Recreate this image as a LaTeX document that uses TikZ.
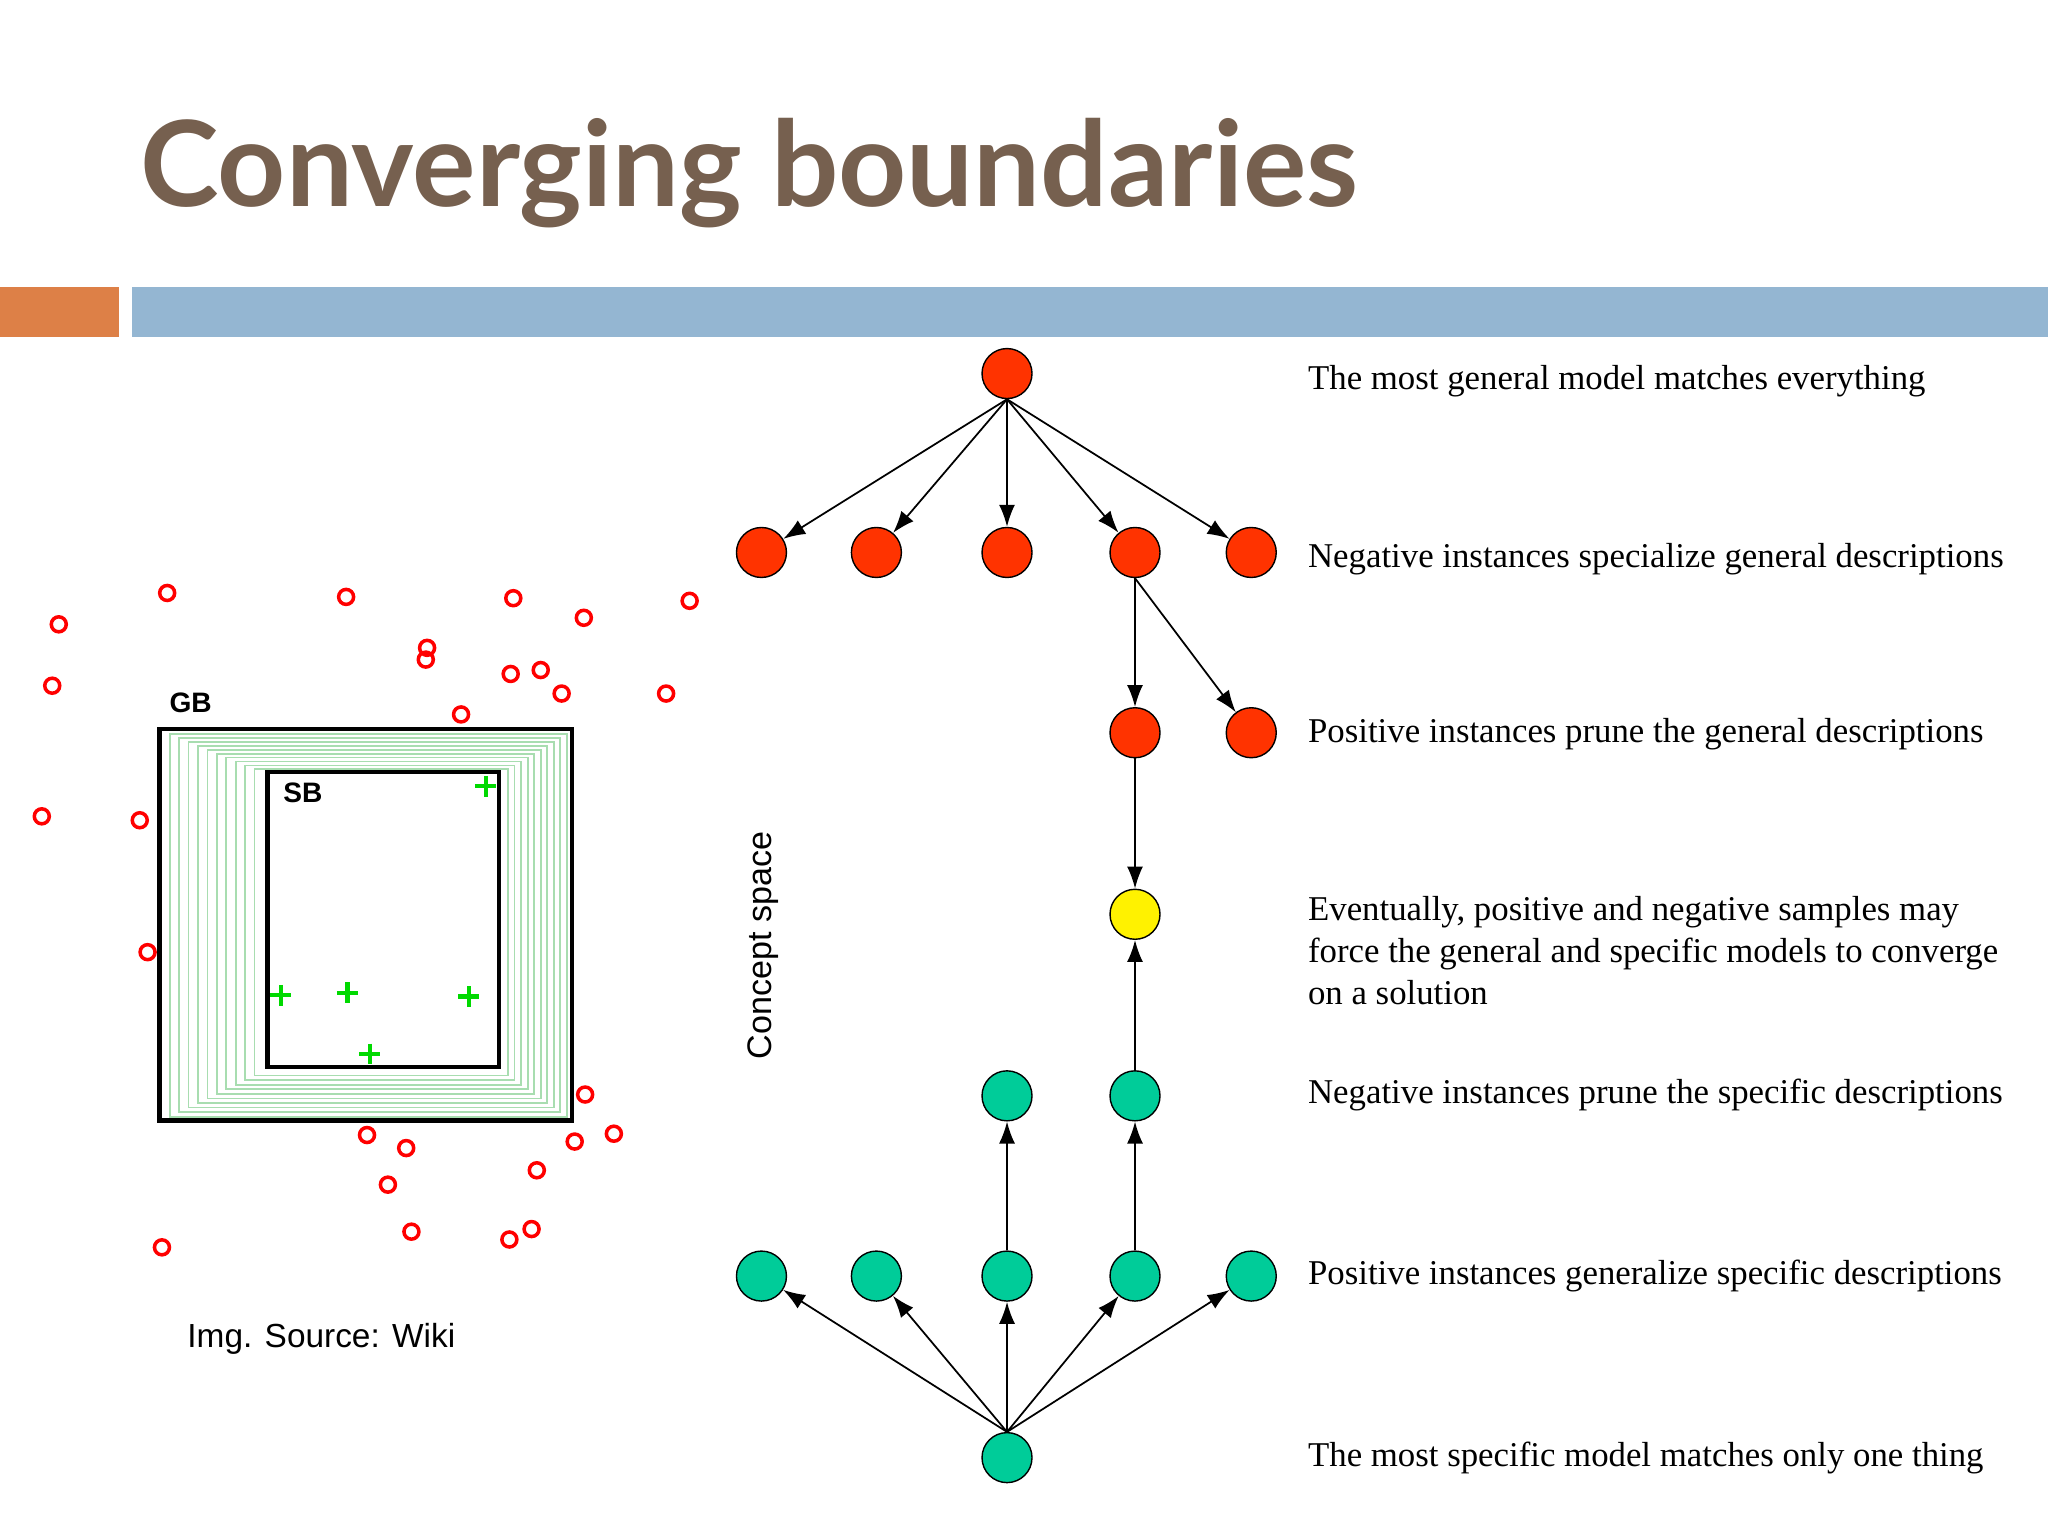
\documentclass[tikz,border=0pt]{standalone}
\usepackage{fontspec}
\setmainfont{Liberation Serif}
\newfontfamily\sans{Liberation Sans}
\newfontfamily\titlef{Lato}
\usetikzlibrary{arrows.meta}
\definecolor{titlebrown}{HTML}{76604F}
\definecolor{barorange}{HTML}{DD8047}
\definecolor{barblue}{HTML}{94B6D2}
\definecolor{nred}{HTML}{FF3300}
\definecolor{ngreen}{HTML}{00CC99}
\definecolor{pgreen}{HTML}{A8DDB0}
\tikzset{
  nd/.style={circle,draw=black,line width=0.4pt,minimum size=0.5cm,inner sep=0pt},
  rn/.style={nd,fill=nred},
  gn/.style={nd,fill=ngreen},
  yn/.style={nd,fill=yellow},
  ar/.style={-{Latex[length=2.2mm,width=1.6mm]},line width=0.5pt},
  lab/.style={anchor=west,font=\fontsize{9.9}{11.9}\selectfont,align=left},
  ro/.style={circle,draw=red,line width=1pt,minimum size=0.15cm,inner sep=0pt},
}
\begin{document}
\begin{tikzpicture}[x=0.01306cm,y=-0.01306cm]
\useasboundingbox (0,0) rectangle (1568,1176);
\node[anchor=base west,text=titlebrown,font=\titlef\bfseries\fontsize{33.8}{37}\selectfont,inner sep=0] (title) at (107,158) {Converging boundaries};
\fill[barorange] (0,220) rectangle (91,258);
\fill[barblue] (101,220) rectangle (1568,258);
% left figure
\foreach \i in {0,...,9}{
  \pgfmathsetmacro{\lx}{130+\i*7.2}
  \pgfmathsetmacro{\ty}{562+\i*3}
  \pgfmathsetmacro{\rx}{434-\i*5}
  \pgfmathsetmacro{\by}{855-\i*3.5}
  \draw[pgreen,line width=0.5pt] (\lx,\ty) rectangle (\rx,\by);
}
\draw[line width=1.3pt] (122,558) rectangle (438,858);
\fill[white] (205,591) rectangle (382,817);
\draw[line width=1.3pt] (205,591) rectangle (382,817);
\node[font=\sans\bfseries\fontsize{8}{9}\selectfont] (gb) at (146,538) {GB};
\node[font=\sans\bfseries\fontsize{8}{9}\selectfont] (sb) at (232,607) {SB};
\foreach \x/\y [count=\k] in {45/478,128/454,265/457,393/458,447/473,528/460,40/525,327/496,326/505,391/516,414/513,430/531,510/531,353/547,32/625,107/628,113/729,448/838,281/869,311/879,440/874,470/868,297/907,411/896,124/955,315/943,390/949,407/941}
  \node[ro] (r\k) at (\x,\y) {};
\foreach \x/\y [count=\k] in {372/602,215/762,266/760,359/763,283/807}
  \draw[green!85!black,line width=1.2pt] (\x-8,\y) -- (\x+8,\y) (\x,\y-8) -- (\x,\y+8);
\node[anchor=west,font=\sans\fontsize{9.5}{12}\selectfont] (src) at (134,1025) {Img. Source: Wiki};
\node[rotate=90,font=\sans\fontsize{9.7}{12}\selectfont] (cs) at (584,724) {Concept space};
% tree
\node[rn] (t) at (771,286) {};
\node[rn] (a1) at (583,423) {};
\node[rn] (a2) at (671,423) {};
\node[rn] (a3) at (771,423) {};
\node[rn] (a4) at (869,423) {};
\node[rn] (a5) at (958,423) {};
\node[rn] (b1) at (869,561) {};
\node[rn] (b2) at (958,561) {};
\node[yn] (y) at (869,700) {};
\node[gn] (c1) at (771,839) {};
\node[gn] (c2) at (869,839) {};
\node[gn] (d1) at (583,977) {};
\node[gn] (d2) at (671,977) {};
\node[gn] (d3) at (771,977) {};
\node[gn] (d4) at (869,977) {};
\node[gn] (d5) at (958,977) {};
\node[gn] (bt) at (771,1116) {};
\foreach \n in {a1,a2,a3,a4,a5} \draw[ar] (t.south) -- (\n);
\draw[ar] (a4) -- (b1);
\draw[ar] (a4.south) -- (b2);
\draw[ar] (b1) -- (y);
\draw[ar] (c2) -- (y);
\draw[ar] (d3) -- (c1);
\draw[ar] (d4) -- (c2);
\foreach \n in {d1,d2,d3,d4,d5} \draw[ar] (bt.north) -- (\n);
% labels
\node[lab] (l1) at (992,292) {The most general model matches everything};
\node[lab] (l2) at (992,428) {Negative instances specialize general descriptions};
\node[lab] (l3) at (992,562) {Positive instances prune the general descriptions};
\node[lab] (l4) at (992,728) {Eventually, positive and negative samples may\\force the general and specific models to converge\\on a solution};
\node[lab] (l5) at (992,838) {Negative instances prune the specific descriptions};
\node[lab] (l6) at (992,977) {Positive instances generalize specific descriptions};
\node[lab] (l7) at (992,1116) {The most specific model matches only one thing};
\end{tikzpicture}
\end{document}
